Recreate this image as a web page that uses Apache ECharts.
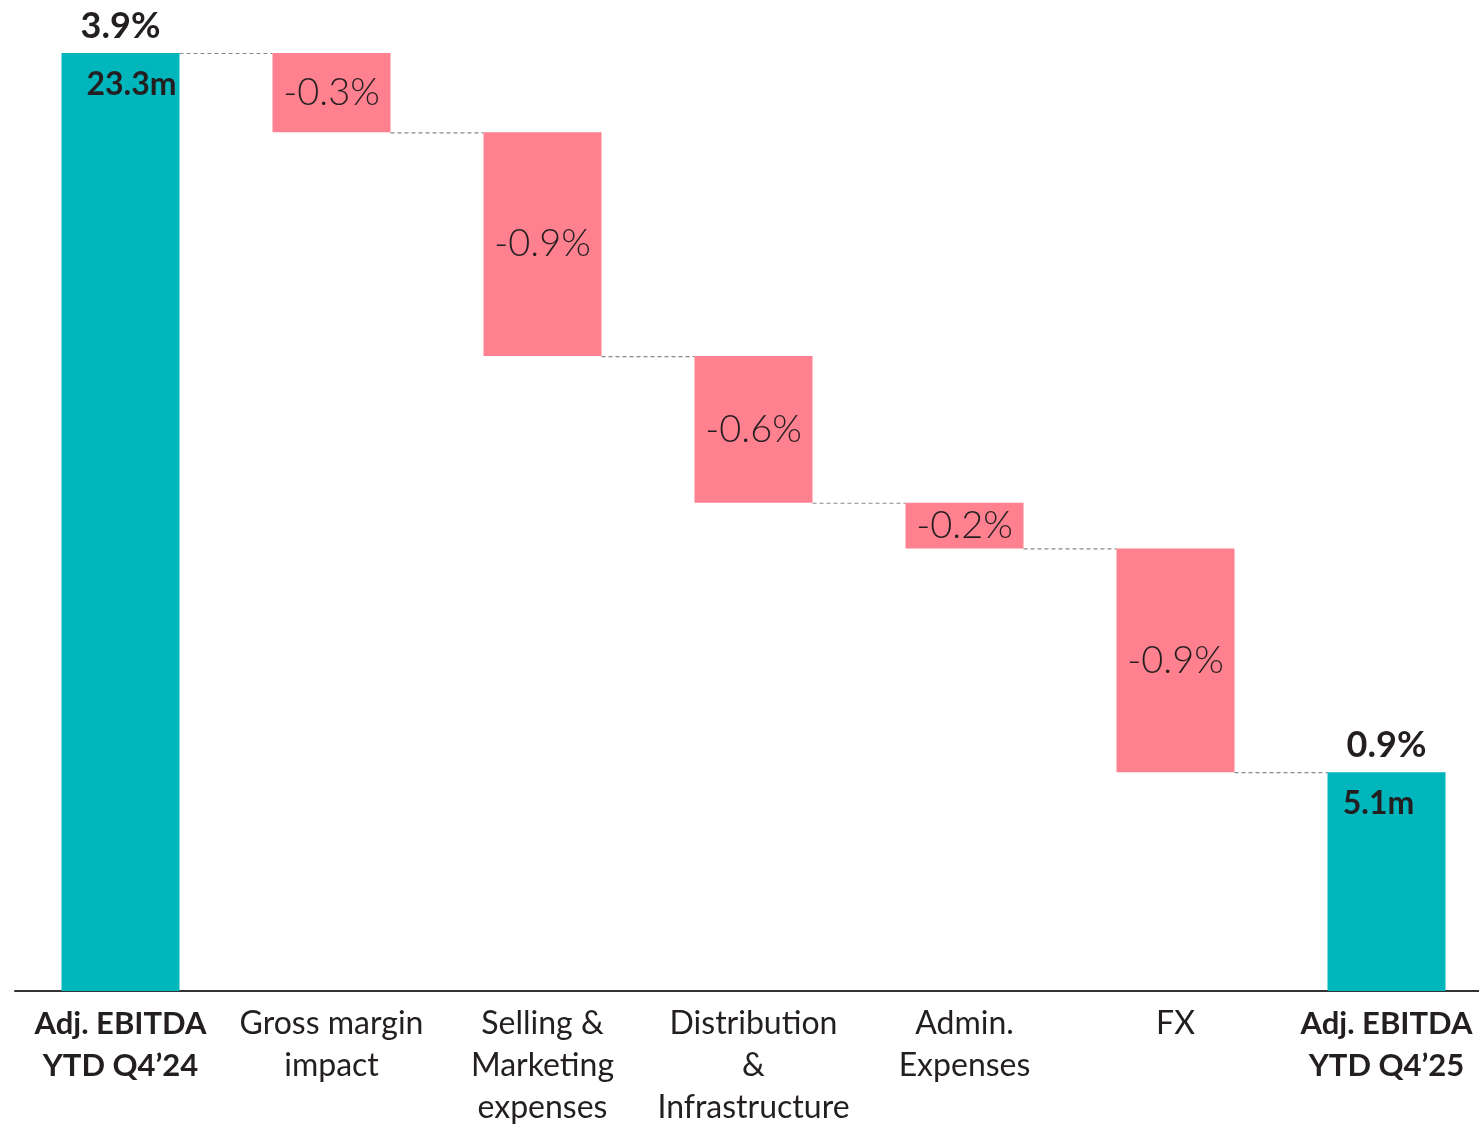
<!DOCTYPE html>
<html>
<head>
<meta charset="utf-8">
<script src="https://cdn.jsdelivr.net/npm/echarts@6/dist/echarts.min.js"></script>
<style>
  html, body { margin: 0; padding: 0; background: #fff; }
  #chart { width: 1479px; height: 1124px; }
</style>
</head>
<body>
<div id="chart"></div>
<script>
const categories = ['Adj. EBITDA\nYTD Q4’24', 'Gross margin\nimpact', 'Selling &\nMarketing\nexpenses',
  'Distribution\n&\nInfrastructure', 'Admin.\nExpenses', 'FX', 'Adj. EBITDA\nYTD Q4’25'];
// start / end totals and the steps between them, in % of revenue
const startValue = 3.9;
const steps = [-0.33, -0.93, -0.61, -0.19, -0.93];
const endValue = 0.91;
const pctLabels = ['3.9%', '-0.3%', '-0.9%', '-0.6%', '-0.2%', '-0.9%', '0.9%'];
const amountLabels = ['23.3m', '', '', '', '', '', '5.1m'];

const TEAL = '#00B6BD';
const PINK = '#FF808F';
const INK = '#231F20';
const FONT = 'Lato, "Noto Sans", sans-serif';
const BAR_W = 118;

// running levels -> invisible base + visible part
const base = [0];
const visible = [startValue];
const levels = [startValue];
let level = startValue;
steps.forEach(s => {
  const next = level + s;
  base.push(Math.min(level, next));
  visible.push(Math.abs(s));
  level = next;
  levels.push(level);
});
base.push(0);
visible.push(endValue);
levels.push(endValue);

const isTotal = i => i === 0 || i === categories.length - 1;

// connectors: from bar i to bar i+1 at the level after bar i
const connectors = levels.slice(0, -1).map((v, i) => [i, v]);

const chart = echarts.init(document.getElementById('chart'));
chart.setOption({
  animation: false,
  textStyle: { fontFamily: FONT, color: INK },
  grid: { left: 15, top: 53, width: 1477, height: 938, outerBoundsMode: 'none', containLabel: false },
  xAxis: {
    type: 'category',
    data: categories,
    axisTick: { show: false },
    axisLine: { lineStyle: { color: '#333', width: 2 } },
    axisLabel: {
      interval: 0,
      margin: 12,
      fontSize: 32,
      lineHeight: 42,
      color: INK,
      fontFamily: FONT,
      formatter: (v, i) => isTotal(i) ? '{b|' + v.split('\n').join('}\n{b|') + '}' : v,
      rich: { b: { fontSize: 31, lineHeight: 42, fontWeight: 'bold', color: INK, fontFamily: FONT } }
    }
  },
  yAxis: { type: 'value', min: 0, max: 3.9, show: false, splitLine: { show: false } },
  series: [
    {
      type: 'bar', stack: 'w', barWidth: BAR_W, silent: true,
      itemStyle: { color: 'transparent' },
      data: base
    },
    {
      type: 'bar', stack: 'w', barWidth: BAR_W,
      data: visible.map((v, i) => ({
        value: v,
        itemStyle: { color: isTotal(i) ? TEAL : PINK },
        label: isTotal(i)
          ? { show: true, position: 'top', distance: 9, formatter: pctLabels[i], fontSize: 36, fontWeight: 'bold', color: INK, fontFamily: FONT }
          : { show: true, position: 'inside', formatter: pctLabels[i], fontSize: 38, fontWeight: 300, color: INK, fontFamily: FONT }
      }))
    },
    {
      // amount labels inside the total bars
      type: 'bar', barGap: '-100%', barWidth: BAR_W, silent: true,
      itemStyle: { color: 'transparent' },
      data: visible.map((v, i) => ({
        value: isTotal(i) ? levels[i] : '-',
        label: {
          show: isTotal(i), position: 'insideTop', distance: 16,
          offset: [i === 0 ? 11 : -8, 0],
          formatter: amountLabels[i], fontSize: 32, fontWeight: 'bold', color: INK, fontFamily: FONT
        }
      }))
    },
    {
      type: 'custom', silent: true,
      data: connectors,
      renderItem: (params, api) => {
        const i = api.value(0);
        const y = api.value(1);
        const p1 = api.coord([i, y]);
        const p2 = api.coord([i + 1, y]);
        return {
          type: 'line',
          shape: { x1: p1[0] + BAR_W / 2, y1: p1[1] + 0.5, x2: p2[0] - BAR_W / 2, y2: p2[1] + 0.5 },
          style: { stroke: '#8A8A8A', lineWidth: 1.2, lineDash: [4, 3] }
        };
      }
    }
  ]
});
</script>
</body>
</html>
